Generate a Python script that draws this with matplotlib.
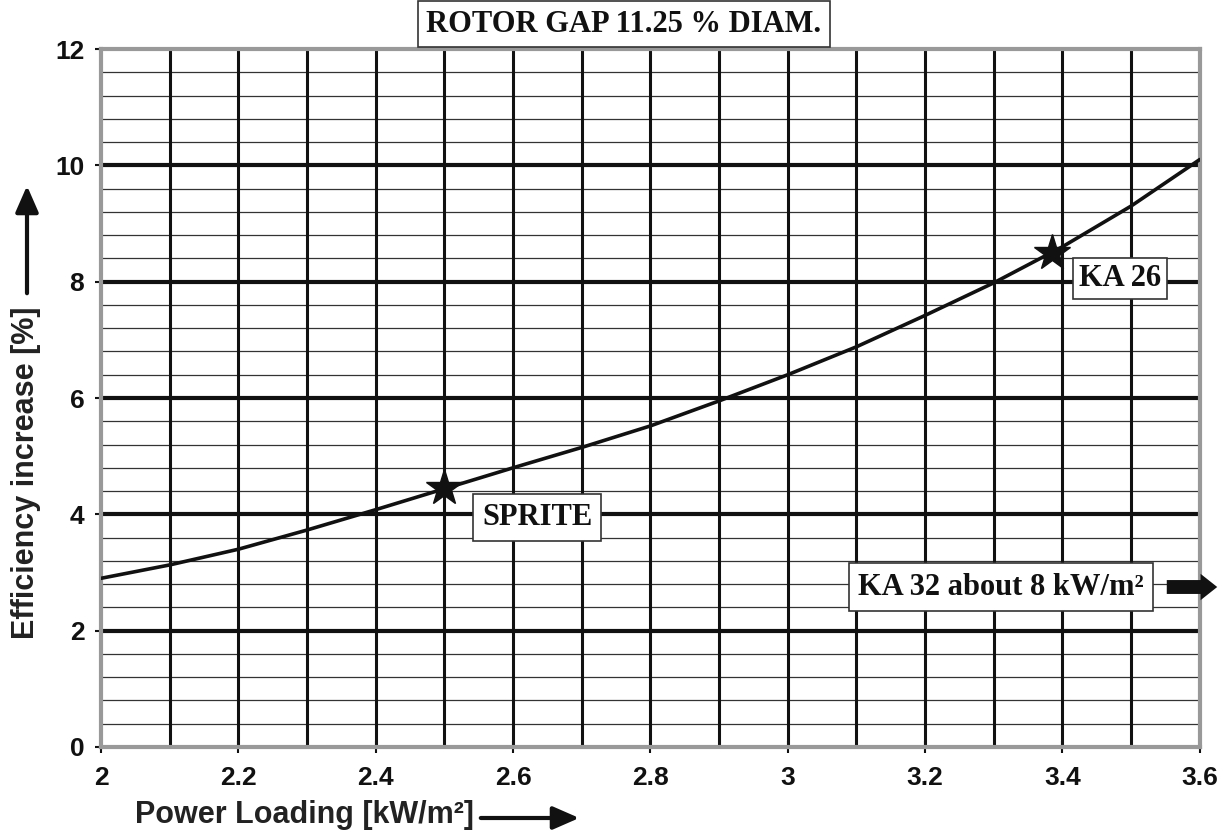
import matplotlib
matplotlib.use("Agg")
import matplotlib.pyplot as plt
from matplotlib.patches import FancyArrowPatch
import numpy as np

# Data
power_loading = [2.0, 2.1, 2.2, 2.3, 2.4, 2.5, 2.6, 2.7, 2.8, 2.9, 3.0, 3.1, 3.2, 3.3, 3.4, 3.5, 3.6]
efficiency = [2.9, 3.13, 3.4, 3.73, 4.08, 4.44, 4.8, 5.15, 5.52, 5.95, 6.4, 6.88, 7.42, 7.98, 8.6, 9.3, 10.1]
x_ticks = [2.0, 2.2, 2.4, 2.6, 2.8, 3.0, 3.2, 3.4, 3.6]
x_tick_labels = ["2", "2.2", "2.4", "2.6", "2.8", "3", "3.2", "3.4", "3.6"]
y_ticks = [0, 2, 4, 6, 8, 10, 12]
markers_x = [2.5, 3.385]
markers_y = [4.45, 8.5]
marker_names = ["SPRITE", "KA 26"]

plt.rcParams['font.family'] = ['Liberation Sans', 'DejaVu Sans']
fig = plt.figure(figsize=(12.27, 8.38), dpi=100)
ax = fig.add_axes([0.0823, 0.1086, 0.8955, 0.8329])
ax.set_xlim(2.0, 3.6)
ax.set_ylim(0, 12)

# Grid
for yv in np.arange(0.4, 12, 0.4):
    if abs(yv - round(yv / 2) * 2) < 1e-6:
        continue
    ax.axhline(yv, color='#333333', lw=0.9, zorder=1)
for yv in [2, 4, 6, 8, 10]:
    ax.axhline(yv, color='#111111', lw=3.0, zorder=1.5)
for xv in np.arange(2.1, 3.6, 0.1):
    ax.axvline(xv, color='#111111', lw=2.2, zorder=1.5)

ax.plot(power_loading, efficiency, color='#111111', lw=2.6, zorder=3, solid_capstyle='round')
ax.plot(markers_x, markers_y, linestyle='none', marker='*', markersize=27, color='#111111', zorder=4)

for sp in ax.spines.values():
    sp.set_color('#999999')
    sp.set_linewidth(3)

ax.set_xticks(x_ticks)
ax.set_xticklabels(x_tick_labels)
ax.set_yticks(y_ticks)
ax.tick_params(axis='both', labelsize=19, width=1.5, length=8, color='#111111', direction='inout')
ax.tick_params(axis='x', pad=10)
ax.tick_params(axis='y', pad=8)
for lbl in ax.get_xticklabels() + ax.get_yticklabels():
    lbl.set_fontweight('bold')
    lbl.set_color('#111111')

serif = ['Liberation Serif', 'DejaVu Serif']
box = dict(boxstyle='square,pad=0.3', fc='white', ec='#333333', lw=1.2)

ax.text(2.635, 3.95, marker_names[0], family=serif, fontweight='bold', fontsize=22,
        ha='center', va='center', bbox=box, zorder=5, color='#111111')
ax.text(3.4835, 8.06, marker_names[1], family=serif, fontweight='bold', fontsize=22,
        ha='center', va='center', bbox=dict(boxstyle='square,pad=0.2', fc='white', ec='#333333', lw=1.2),
        zorder=5, color='#111111')
ax.text(3.31, 2.75, "KA 32 about 8 kW/m²", family=serif, fontweight='bold', fontsize=22,
        ha='center', va='center', bbox=dict(boxstyle='square,pad=0.3', fc='white', ec='#333333', lw=1.2),
        zorder=5, color='#111111')

# thick block arrow for KA 32
fig.add_artist(FancyArrowPatch((1164 / 1227, 1 - 587 / 838), (1220 / 1227, 1 - 587 / 838),
                               transform=fig.transFigure,
                               arrowstyle='simple,head_length=12,head_width=19,tail_width=10',
                               mutation_scale=1, color='#111111', lw=0))

fig.text(0.5086, 0.971, "ROTOR GAP 11.25 % DIAM.", family=serif, fontweight='bold', fontsize=22,
         ha='center', va='center', color='#111111',
         bbox=dict(boxstyle='square,pad=0.28', fc='white', ec='#333333', lw=1.2))

# Axis labels with arrows
fig.text(0.021, 1 - 473 / 838, "Efficiency increase [%]", rotation=90, fontsize=22, fontweight='bold',
         ha='center', va='center', color='#222222')
fig.add_artist(FancyArrowPatch((27 / 1227, 1 - 296 / 838), (27 / 1227, 1 - 183 / 838), transform=fig.transFigure,
               arrowstyle='-|>,head_width=7,head_length=16', lw=3, color='#111111', mutation_scale=1))
fig.text(135 / 1227, 1 - 815 / 838, "Power Loading [kW/m²]", fontsize=22, fontweight='bold',
         ha='left', va='center', color='#222222')
fig.add_artist(FancyArrowPatch((478 / 1227, 1 - 818 / 838), (582 / 1227, 1 - 818 / 838), transform=fig.transFigure,
               arrowstyle='-|>,head_width=7,head_length=16', lw=3, color='#111111', mutation_scale=1))

fig.savefig('out.png', dpi=100, facecolor='white')
